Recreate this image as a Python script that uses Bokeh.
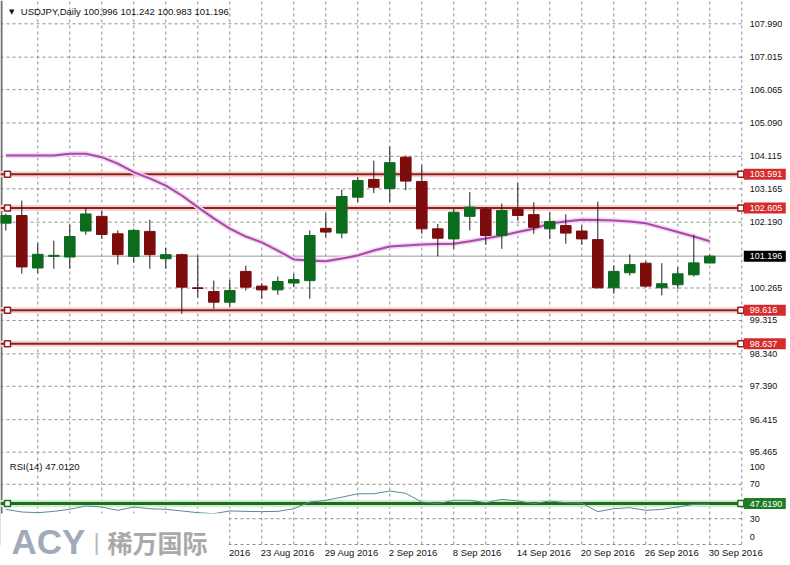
import pandas as pd
from bokeh.plotting import figure
from bokeh.models import ColumnDataSource, Range1d
from bokeh.core.properties import value
from bokeh.embed import file_html
from bokeh.resources import INLINE

# ---------------- data ----------------
dates = [d.strftime("%-d %b %Y") for d in pd.bdate_range("2016-08-01", "2016-09-30")]

open_ = [102.16, 102.385, 100.85, 101.19, 101.17, 101.93, 102.36, 101.85, 101.19, 101.92,
         101.12, 101.24, 100.27, 100.16, 99.85, 100.75, 100.32, 100.21, 100.41, 100.48,
         102.01, 101.87, 102.92, 103.44, 103.17, 104.09, 103.38, 101.995, 101.70, 102.36,
         102.56, 101.80, 102.56, 102.41, 101.995, 102.09, 101.93, 101.68, 100.27, 100.71,
         100.99, 100.27, 100.36, 100.65, 100.996]
high = [102.44, 102.82, 101.57, 101.65, 102.12, 102.60, 102.53, 101.95, 101.995, 102.26,
        101.44, 101.27, 101.215, 100.48, 100.50, 100.92, 100.40, 100.60, 100.68, 101.95,
        102.45, 103.14, 103.505, 103.99, 104.40, 104.14, 103.85, 102.14, 102.58, 103.07,
        102.63, 102.73, 103.33, 102.77, 102.48, 102.42, 102.09, 102.79, 100.92, 101.245,
        101.05, 100.99, 100.87, 101.82, 101.242]
low = [101.946, 100.68, 100.70, 100.83, 100.83, 101.82, 101.70, 100.95, 101.01, 100.83,
       100.83, 99.51, 99.996, 99.66, 99.70, 100.19, 99.95, 100.07, 100.29, 99.95,
       101.75, 101.72, 102.77, 103.04, 102.77, 103.12, 101.85, 101.19, 101.41, 101.95,
       101.53, 101.41, 102.24, 101.85, 101.70, 101.56, 101.53, 100.25, 100.10, 100.63,
       100.27, 100.05, 100.24, 100.60, 100.983]
close = [102.385, 100.88, 101.25, 101.22, 101.77, 102.43, 101.83, 101.24, 101.95, 101.24,
         101.24, 100.29, 100.25, 99.85, 100.19, 100.29, 100.21, 100.455, 100.51, 101.80,
         101.90, 102.94, 103.41, 103.21, 103.93, 103.39, 101.995, 101.72, 102.48, 102.63,
         101.80, 102.53, 102.385, 102.04, 102.21, 101.87, 101.70, 100.27, 100.75, 100.95,
         100.32, 100.39, 100.68, 101.00, 101.196]
ma = [104.14, 104.14, 104.14, 104.14, 104.19, 104.19, 104.09, 103.90, 103.65, 103.47,
      103.26, 102.97, 102.63, 102.30, 102.00, 101.77, 101.60, 101.36, 101.10, 101.07,
      101.05, 101.13, 101.215, 101.36, 101.48, 101.51, 101.54, 101.55, 101.56, 101.63,
      101.71, 101.80, 101.90, 102.00, 102.15, 102.21, 102.26, 102.25, 102.24, 102.21,
      102.16, 102.03, 101.90, 101.77, 101.63]
rsi = [40.9, 37.8, 37.0, 38.5, 41.0, 44.8, 43.6, 39.7, 43.6, 41.6,
       40.9, 39.0, 37.0, 35.8, 39.0, 38.5, 38.2, 38.5, 41.6, 49.4,
       51.4, 55.0, 59.0, 59.0, 62.2, 59.5, 49.4, 47.5, 51.4, 51.4,
       48.6, 52.5, 50.6, 47.5, 50.6, 48.6, 47.9, 38.2, 41.6, 42.8,
       39.7, 40.9, 43.6, 46.7, 47.0]

price_ticks = [107.990, 107.015, 106.065, 105.090, 104.115, 103.165, 102.190,
               100.265, 99.315, 98.340, 97.390, 96.415, 95.465]
price_levels = [103.591, 102.605, 99.616, 98.637]
last_price = 101.196
rsi_ticks = [100, 70, 30, 0]
rsi_levels = [70, 30, 0]
rsi_hline = 47.6190
title_text = "USDJPY,Daily 100.996 101.242 100.983 101.196"
rsi_title = "RSI(14) 47.0120"
date_step = 4

# ---------------- geometry / style ----------------
W, H = 790, 565
BAR0_PX, BAR_PX = 5.3, 16.0              # x position of first bar, pixels per bar
P_REF, P_REF_PX, PX_PER_P = 107.990, 23.3, 34.2   # price scale
RSI0_PX, PX_PER_RSI = 544.0, 0.86                 # rsi scale
FONT = value("Liberation Sans")
GRID = "#8c8c8c"
BULL, BEAR, WICK = "#0d6b1e", "#7d0c0c", "#1e1e1e"
LEVEL, LEVEL_BOX = "#8e1f1f", "#d42c2c"
RSI_COL, GREEN_LINE, GREEN_BOX = "#5a8a9a", "#1d6b1d", "#1f7d24"
TXT = "#111111"

N = len(close)
idx = list(range(N))
x_start = -BAR0_PX / BAR_PX
x_end = (W - BAR0_PX) / BAR_PX
y_top = P_REF + P_REF_PX / PX_PER_P
y_bot = P_REF - (H - P_REF_PX) / PX_PER_P
r_top = RSI0_PX / PX_PER_RSI
r_bot = -(H - RSI0_PX) / PX_PER_RSI

grid_x = list(range(2, N + 2, 2))
X_EDGE = grid_x[-1]          # right edge of the chart area (last grid line)
X_LEFT = x_start

p = figure(width=W, height=H, x_range=Range1d(x_start, x_end), y_range=Range1d(y_bot, y_top),
           output_backend="svg", toolbar_location=None, x_axis_location=None,
           y_axis_location=None, min_border=0, min_border_left=0, min_border_right=0,
           min_border_top=0, min_border_bottom=0)
p.extra_y_ranges = {"rsi": Range1d(r_bot, r_top)}
p.xgrid.visible = False
p.ygrid.visible = False
p.outline_line_color = None
p.background_fill_color = "white"
p.border_fill_color = "white"

dash = dict(line_color=GRID, line_dash="3 3", line_width=1)
# vertical grid through both panels
p.segment(x0=grid_x, y0=[0] * len(grid_x), x1=grid_x, y1=[r_top] * len(grid_x),
          y_range_name="rsi", **dash)
# horizontal grids
p.segment(x0=[X_LEFT] * len(price_ticks), y0=price_ticks, x1=[X_EDGE] * len(price_ticks),
          y1=price_ticks, **dash)
p.segment(x0=[X_LEFT] * len(rsi_levels), y0=rsi_levels, x1=[X_EDGE] * len(rsi_levels),
          y1=rsi_levels, y_range_name="rsi", **dash)
# left frame line
p.segment(x0=[X_LEFT + 1 / BAR_PX], y0=[0], x1=[X_LEFT + 1 / BAR_PX], y1=[r_top],
          y_range_name="rsi", line_color="#6e6e6e", line_width=2)

# price levels
nl = len(price_levels)
p.segment(x0=[X_LEFT] * nl, y0=price_levels, x1=[X_EDGE] * nl, y1=price_levels,
          line_color="#f6d3d3", line_width=6)
p.segment(x0=[X_LEFT] * nl, y0=price_levels, x1=[X_EDGE] * nl, y1=price_levels,
          line_color=LEVEL, line_width=2)
p.segment(x0=[X_LEFT], y0=[last_price], x1=[X_EDGE], y1=[last_price],
          line_color="#9a9a9a", line_width=1)

# moving average
p.line(idx, ma, line_color="#f4d4f4", line_width=5)
p.line(idx, ma, line_color="#a64aa6", line_width=2)

# candles
src = ColumnDataSource(dict(
    x=idx, high=high, low=low,
    top=[max(o, c) for o, c in zip(open_, close)],
    bottom=[min(o, c) for o, c in zip(open_, close)],
    color=[BULL if c >= o else BEAR for o, c in zip(open_, close)],
))
p.segment(x0="x", y0="low", x1="x", y1="high", source=src, line_color=WICK, line_width=1)
p.vbar(x="x", width=0.66, top="top", bottom="bottom", source=src,
       fill_color="color", line_color="color", line_width=1)

# level end markers
sq = dict(marker="square", size=6, fill_color="white", line_width=1.5)
p.scatter([X_LEFT + 7 / BAR_PX] * nl, price_levels, line_color=LEVEL, **sq)
p.scatter([X_EDGE - 1 / BAR_PX] * nl, price_levels, line_color=LEVEL, **sq)

# RSI panel
p.segment(x0=[X_LEFT], y0=[rsi_hline], x1=[X_EDGE], y1=[rsi_hline], y_range_name="rsi",
          line_color="#cdeecd", line_width=7)
p.segment(x0=[X_LEFT], y0=[rsi_hline], x1=[X_EDGE], y1=[rsi_hline], y_range_name="rsi",
          line_color=GREEN_LINE, line_width=3)
p.line(idx, rsi, y_range_name="rsi", line_color=RSI_COL, line_width=1)
p.scatter([X_LEFT + 7 / BAR_PX], [rsi_hline], y_range_name="rsi", line_color=GREEN_LINE, **sq)
p.scatter([X_EDGE - 1 / BAR_PX], [rsi_hline], y_range_name="rsi", line_color=GREEN_LINE, **sq)

# ---------------- right-hand scale labels ----------------
lab = dict(text_font=FONT, text_font_size="9px", text_align="left", text_baseline="middle")
p.text(x=[X_EDGE] * len(price_ticks), y=price_ticks,
       text=[f"{t:.3f}" for t in price_ticks], x_offset=8, text_color=TXT, **lab)

clamp = 8.0 / PX_PER_RSI
rsi_tick_pos = [min(max(t, clamp), 100 - clamp) for t in rsi_ticks]
p.text(x=[X_EDGE] * len(rsi_ticks), y=rsi_tick_pos, text=[str(t) for t in rsi_ticks],
       x_offset=8, text_color=TXT, y_range_name="rsi", **lab)

box_x = X_EDGE + 23 / BAR_PX
box = dict(width=42, height=11, width_units="screen", height_units="screen", line_color=None)
p.rect(x=[box_x] * nl, y=price_levels, fill_color=LEVEL_BOX, **box)
p.text(x=[X_EDGE] * nl, y=price_levels, text=[f"{v:.3f}" for v in price_levels],
       x_offset=8, text_color="white", **lab)
p.rect(x=[box_x], y=[last_price], fill_color="#000000", **box)
p.text(x=[X_EDGE], y=[last_price], text=[f"{last_price:.3f}"], x_offset=8,
       text_color="white", **lab)
p.rect(x=[box_x], y=[rsi_hline], fill_color=GREEN_BOX, y_range_name="rsi", **box)
p.text(x=[X_EDGE], y=[rsi_hline], text=[f"{rsi_hline:.4f}"], x_offset=8,
       text_color="white", y_range_name="rsi", **lab)

# ---------------- titles ----------------
p.text(x=[0], y=[y_top], text=["\u25bc"], x_offset=6, y_offset=11,
       text_font=value("DejaVu Sans"), text_font_size="7px", text_color=TXT,
       text_align="center", text_baseline="middle")
p.text(x=[0], y=[y_top], text=[title_text], x_offset=15, y_offset=11,
       text_color=TXT, text_font=FONT, text_font_size="9.5px", text_align="left",
       text_baseline="middle")
p.text(x=[0], y=[100], text=[rsi_title], x_offset=4, y_offset=8, y_range_name="rsi",
       text_color=TXT, text_font=FONT, text_font_size="9.5px", text_align="left",
       text_baseline="middle")

# ---------------- date labels ----------------
dx = idx[::date_step]
p.text(x=dx, y=[0] * len(dx), text=dates[::date_step], y_range_name="rsi",
       x_offset=-1, y_offset=2, text_color=TXT, text_font=FONT, text_font_size="9.5px",
       text_align="left", text_baseline="top")

# ---------------- watermark ----------------
wm_right = X_LEFT + 228 / BAR_PX
wm_top = 31 / PX_PER_RSI
p.quad(left=[X_LEFT], right=[wm_right], bottom=[r_bot], top=[wm_top], y_range_name="rsi",
       fill_color="white", line_color=None)
p.text(x=[X_LEFT], y=[0], text=["ACY"], x_offset=11, y_offset=-3, y_range_name="rsi",
       text_font=FONT, text_font_style="bold", text_font_size="35px",
       text_color="#a0aabb", text_align="left", text_baseline="middle")
p.text(x=[X_LEFT], y=[0], text=["|"], x_offset=93, y_offset=-3, y_range_name="rsi",
       text_font=FONT, text_font_size="24px", text_color="#b8b8b8",
       text_align="left", text_baseline="middle")
p.text(x=[X_LEFT], y=[0], text=["稀万国际"], x_offset=107, y_offset=-3, y_range_name="rsi",
       text_font=value("Noto Sans CJK SC"), text_font_style="bold", text_font_size="25px",
       text_color="#a9a9a9", text_align="left", text_baseline="middle")

open("out.html", "w").write(file_html(p, INLINE))
